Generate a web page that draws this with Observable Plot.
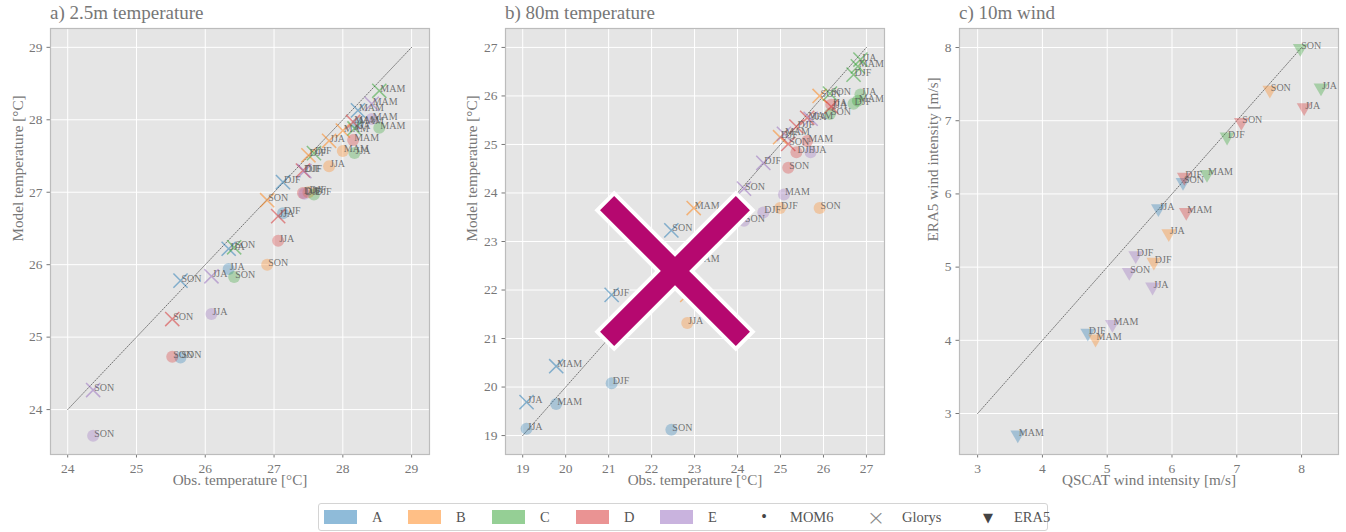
<!DOCTYPE html>
<html><head><meta charset="utf-8">
<script src="https://cdn.jsdelivr.net/npm/d3@7"></script>
<script src="https://cdn.jsdelivr.net/npm/@observablehq/plot@0.6"></script>
<style>
body{margin:0;background:#fff;font-family:"Liberation Serif","DejaVu Serif",serif;}
#root{position:relative;width:1346px;height:532px;overflow:hidden;background:#fff;}
.title{position:absolute;top:3px;font-size:19px;color:#777;white-space:nowrap;line-height:20px;}
.panel{position:absolute;top:18px;}
#legend{position:absolute;left:318px;top:503px;width:730px;height:28px;border:1px solid #d4d4d4;border-radius:3px;background:#fff;display:flex;align-items:center;box-sizing:border-box;padding-left:5px;font-size:14.5px;color:#555;}
.litem{display:flex;align-items:center;flex:none;}
.patch{width:33px;height:14px;flex:none;}
.ltext{margin-left:15px;}
.lsym{width:20px;text-align:center;flex:none;}
#xmark{position:absolute;left:0;top:0;pointer-events:none;}
</style></head><body><div id="root"></div>
<script>
// ---------------- data ----------------
const groups = ["A", "B", "C", "D", "E"];
const seasons = ["DJF", "MAM", "JJA", "SON"];
const groupColors = ["#1f77b4", "#ff7f0e", "#2ca02c", "#d62728", "#9467bd"];

// a) 2.5m temperature  (rows: groups A..E, cols: DJF, MAM, JJA, SON)
const t25Obs = [
  [27.13, 28.22, 26.34, 25.64],
  [27.50, 28.00, 27.80, 26.90],
  [27.58, 28.53, 28.17, 26.42],
  [27.42, 28.15, 27.06, 25.52],
  [27.44, 28.42, 26.09, 24.37]
];
const t25MOM6 = [
  [26.71, 27.95, 25.94, 24.72],
  [27.00, 27.57, 27.36, 26.00],
  [26.97, 27.89, 27.54, 25.83],
  [26.99, 27.72, 26.33, 24.73],
  [26.98, 28.01, 25.32, 23.64]
];
const t25Glorys = [
  [27.14, 28.13, 26.22, 25.78],
  [27.51, 27.85, 27.71, 26.89],
  [27.54, 28.40, 27.88, 26.24],
  [27.30, 27.97, 26.67, 25.25],
  [27.29, 28.22, 25.84, 24.27]
];

// b) 80m temperature
const t80Obs = [
  [21.07, 19.78, 19.09, 22.46],
  [24.99, 22.98, 22.83, 25.91],
  [26.70, 26.80, 26.86, 26.15],
  [25.37, 25.62, 26.18, 25.18],
  [24.60, 25.08, 25.70, 24.15]
];
const t80MOM6 = [
  [20.08, 19.65, 19.14, 19.12],
  [23.69, 22.60, 21.32, 23.69],
  [25.84, 25.90, 26.03, 25.63],
  [24.84, 25.07, 25.82, 24.52],
  [23.60, 23.97, 24.84, 23.43]
];
const t80Glorys = [
  [21.90, 20.43, 19.69, 23.23],
  [25.15, 23.69, 21.90, 26.00],
  [26.44, 26.61, 26.75, 26.05],
  [25.37, 25.55, 25.78, 25.01],
  [24.62, 25.22, 25.53, 24.09]
];

// c) 10m wind
const windQSCAT = [
  [4.70, 3.62, 5.79, 6.17],
  [5.72, 4.82, 5.95, 7.51],
  [6.85, 6.54, 8.30, 7.98],
  [6.19, 6.22, 8.04, 7.07],
  [5.44, 5.08, 5.70, 5.34]
];
const windERA5 = [
  [4.10, 2.71, 5.80, 6.16],
  [5.07, 4.02, 5.46, 7.42],
  [6.78, 6.27, 7.45, 7.99],
  [6.23, 5.75, 7.18, 6.98],
  [5.16, 4.22, 4.73, 4.93]
];

const ticksA = [24, 25, 26, 27, 28, 29];
const ticksB = [19, 20, 21, 22, 23, 24, 25, 26, 27];
const ticksC = [3, 4, 5, 6, 7, 8];
const diagA = [24, 29];
const diagB = [19, 27];
const diagC = [3, 8];

const panelTitles = ["a) 2.5m temperature", "b) 80m temperature", "c) 10m wind"];
const xLabels = ["Obs. temperature [°C]", "Obs. temperature [°C]", "QSCAT wind intensity [m/s]"];
const yLabels = ["Model temperature [°C]", "Model temperature [°C]", "ERA5 wind intensity [m/s]"];
const legendSeries = ["MOM6", "Glorys", "ERA5"];
const legendGlyphs = ["•", "×", "▼"];

// ---------------- drawing ----------------
const root = document.getElementById("root");
const FONT = '"Liberation Serif","DejaVu Serif",serif';

function buildRows(obs, model, set) {
  const rows = [];
  groups.forEach((g, gi) => seasons.forEach((s, si) => {
    rows.push({group: g, season: s, set, x: obs[gi][si], y: model[gi][si]});
  }));
  return rows;
}

function makePanel(cfg) {
  const marks = [
    Plot.frame({fill: "#E5E5E5"}),
    Plot.ruleX(cfg.ticks, {stroke: "#ffffff", strokeWidth: 1}),
    Plot.ruleY(cfg.ticks, {stroke: "#ffffff", strokeWidth: 1}),
    Plot.line(cfg.diag.map(v => ({v})), {x: "v", y: "v", stroke: "#555", strokeWidth: 0.8, strokeDasharray: "1.2,1.6"})
  ];
  const allRows = [];
  cfg.series.forEach(s => {
    const rows = buildRows(cfg.obs, s.values, s.name);
    allRows.push(...rows);
    if (s.kind === "circle") {
      marks.push(Plot.dot(rows, {x: "x", y: "y", r: 6, fill: "group", fillOpacity: 0.3, symbol: "circle"}));
    } else if (s.kind === "times") {
      marks.push(Plot.dot(rows, {x: "x", y: "y", r: 6.5, stroke: "group", strokeOpacity: 0.5, strokeWidth: 1.5, symbol: "times"}));
    } else {
      marks.push(Plot.dot(rows, {x: "x", y: "y", r: 5.5, fill: "group", fillOpacity: 0.33, symbol: "triangle", rotate: 180}));
    }
  });
  marks.push(Plot.text(allRows, {x: "x", y: "y", text: "season", textAnchor: "start", lineAnchor: "bottom", dx: 1, dy: 1, fontSize: 10, fill: "#555", fillOpacity: 0.8}));
  marks.push(Plot.frame({stroke: "#bcbcbc", strokeWidth: 1.2}));
  marks.push(Plot.text([cfg.xlabel], {text: d => d, frameAnchor: "bottom", dy: 30, fontSize: 15.2, fill: "#777"}));
  marks.push(Plot.text([cfg.ylabel], {text: d => d, frameAnchor: "left", rotate: -90, dx: -cfg.ylabOff, fontSize: 15.2, fill: "#777"}));

  const svg = Plot.plot({
    width: cfg.width, height: 482,
    marginLeft: cfg.ml, marginRight: cfg.mr, marginTop: 10, marginBottom: 46,
    x: {domain: cfg.xd, ticks: cfg.ticks, tickFormat: d3.format("d"), label: null, tickSize: 3.5, tickPadding: 5},
    y: {domain: cfg.yd, ticks: cfg.ticks, tickFormat: d3.format("d"), label: null, tickSize: 3.5, tickPadding: 4.5},
    color: {domain: groups, range: groupColors},
    style: {fontFamily: FONT, fontSize: "13.5px", color: "#777", background: "transparent", overflow: "visible"},
    marks
  });
  const div = document.createElement("div");
  div.className = "panel";
  div.style.left = cfg.left + "px";
  div.appendChild(svg);
  root.appendChild(div);

  const t = document.createElement("div");
  t.className = "title";
  t.style.left = (cfg.left + cfg.ml) + "px";
  t.textContent = cfg.title;
  root.appendChild(t);
}

makePanel({left: 0, width: 440, ml: 50, mr: 11, xd: [23.75, 29.26], yd: [23.38, 29.26], ticks: ticksA, diag: diagA,
  obs: t25Obs, series: [{name: "MOM6", kind: "circle", values: t25MOM6}, {name: "Glorys", kind: "times", values: t25Glorys}],
  title: panelTitles[0], xlabel: xLabels[0], ylabel: yLabels[0], ylabOff: 32});
makePanel({left: 440, width: 455, ml: 65, mr: 11, xd: [18.6, 27.42], yd: [18.61, 27.39], ticks: ticksB, diag: diagB,
  obs: t80Obs, series: [{name: "MOM6", kind: "circle", values: t80MOM6}, {name: "Glorys", kind: "times", values: t80Glorys}],
  title: panelTitles[1], xlabel: xLabels[1], ylabel: yLabels[1], ylabOff: 33});
makePanel({left: 895, width: 451, ml: 64, mr: 8, xd: [2.72, 8.57], yd: [2.44, 8.26], ticks: ticksC, diag: diagC,
  obs: windQSCAT, series: [{name: "ERA5", kind: "triangle", values: windERA5}],
  title: panelTitles[2], xlabel: xLabels[2], ylabel: yLabels[2], ylabOff: 26});

// legend
const legend = document.createElement("div");
legend.id = "legend";
groups.forEach((g, i) => {
  const it = document.createElement("div");
  it.className = "litem";
  it.style.width = "84px";
  const p = document.createElement("div");
  p.className = "patch";
  const c = d3.color(groupColors[i]); c.opacity = 0.5;
  p.style.background = c.formatRgb();
  const tx = document.createElement("span");
  tx.className = "ltext"; tx.textContent = g;
  it.appendChild(p); it.appendChild(tx);
  legend.appendChild(it);
});
legendSeries.forEach((s, i) => {
  const it = document.createElement("div");
  it.className = "litem";
  it.style.width = "112px";
  if (i === 0) it.style.marginLeft = "10px";
  const sy = document.createElement("span");
  sy.className = "lsym"; sy.textContent = legendGlyphs[i];
  if (i === 0) { sy.style.fontSize = "16px"; sy.style.color = "#444"; }
  if (i === 1) { sy.style.fontSize = "22px"; sy.style.color = "#888"; sy.style.fontFamily = "DejaVu Sans"; sy.style.fontWeight = "200"; }
  if (i === 2) { sy.style.fontSize = "13px"; sy.style.color = "#444"; sy.style.fontFamily = "DejaVu Sans"; }
  const tx = document.createElement("span");
  tx.style.marginLeft = "16px"; tx.textContent = s;
  it.appendChild(sy); it.appendChild(tx);
  legend.appendChild(it);
});
root.appendChild(legend);

// overlay cross mark drawn over panel b
const ns = "http://www.w3.org/2000/svg";
const ov = document.createElementNS(ns, "svg");
ov.setAttribute("id", "xmark");
ov.setAttribute("width", 1346); ov.setAttribute("height", 532);
const g = document.createElementNS(ns, "g");
g.setAttribute("transform", "translate(675,271) rotate(45)");
const arms = [[-96, -10, 192, 20], [-10, -96, 20, 192]];
[["#ffffff", 8], ["#B5086F", 0]].forEach(([col, sw]) => {
  arms.forEach(a => {
    const r = document.createElementNS(ns, "rect");
    r.setAttribute("x", a[0]); r.setAttribute("y", a[1]);
    r.setAttribute("width", a[2]); r.setAttribute("height", a[3]);
    if (sw) { r.setAttribute("fill", col); r.setAttribute("stroke", col); r.setAttribute("stroke-width", sw); }
    else r.setAttribute("fill", col);
    g.appendChild(r);
  });
});
ov.appendChild(g);
root.appendChild(ov);
</script></body></html>
